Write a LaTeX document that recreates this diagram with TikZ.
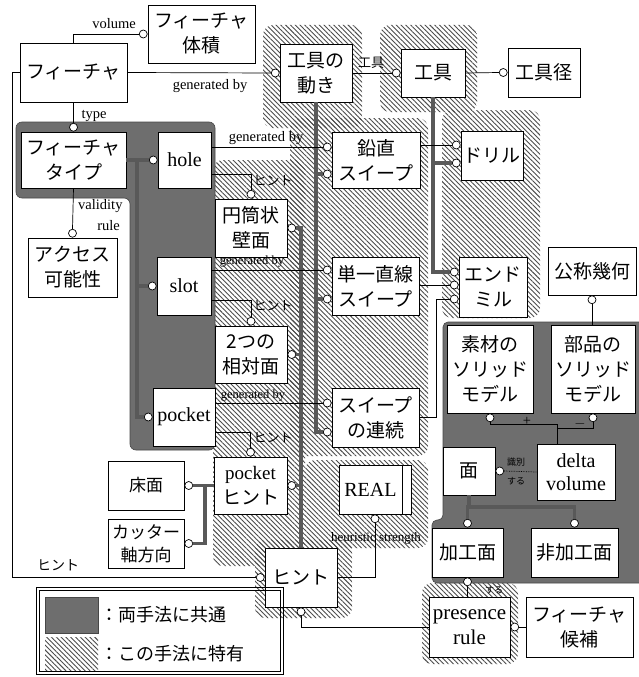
\documentclass[tikz,border=0pt]{standalone}
\usepackage{fontspec}
\setmainfont{Liberation Serif}
\newfontfamily\jp{Noto Sans CJK JP}
\usetikzlibrary{patterns.meta,calc}
\begin{document}
\begin{tikzpicture}[x=1pt,y=-1pt,
 box/.style={draw, fill=white, line width=0.8pt, inner sep=0pt, align=center, font=\jp\fontsize{19}{25}\selectfont},
 ebox/.style={box, font=\rmfamily\fontsize{20}{23}\selectfont},
 oc/.style={circle, draw, fill=white, line width=0.7pt, inner sep=0pt, minimum size=8pt},
 ln/.style={line width=0.7pt},
 thk/.style={line width=3.5pt, draw=black!65},
 lbl/.style={font=\rmfamily\fontsize{14.5}{15}\selectfont, inner sep=0pt},
 jlbl/.style={font=\jp\fontsize{13}{15}\selectfont, inner sep=0pt},
 slbl/.style={font=\jp\fontsize{9}{10}\selectfont, inner sep=0pt},
 hatch/.style={pattern={Lines[angle=-45,distance=3.4pt,line width=0.9pt]}, pattern color=black!70},
 dark/.style={fill=black!57, draw=black!72, line width=0.6pt},
]
\useasboundingbox (0,0) rectangle (639,677);
\fill[white] (0,0) rectangle (639,677);

% ---------- hatched regions ----------
\begin{scope}[rounded corners=10pt]
\path[hatch] (263,25) rectangle (362,128);
\path[hatch] (290,118) rectangle (428,456);
\path[hatch] (213,160) rectangle (305,566);
\path[hatch] (255,540) rectangle (352,618);
\path[hatch] (305,460) rectangle (428,548);
\path[hatch] (380,25) rectangle (477,112);
\path[hatch] (442,110) rectangle (540,318);
\path[hatch] (422,583) rectangle (518,664);
\end{scope}

% ---------- dark regions ----------
\path[dark, rounded corners=6pt] (16,122) -- (215,122) -- (215,450) -- (130,450) -- (130,198) -- (16,198) -- cycle;
\path[dark, rounded corners=5pt] (443,322) -- (645,322) -- (645,583) -- (432,583) -- (432,520) -- (443,520) -- cycle;

% ---------- boxes ----------
\node[box, minimum width=107pt, minimum height=58pt] (vol)   at (201.5,34)  {フィーチャ\\体積};
\node[box, minimum width=107pt, minimum height=59pt] (feat)  at (73.5,72.5) {フィーチャ};
\node[box, minimum width=72pt,  minimum height=58pt] (tmove) at (316,73)    {工具の\\動き};
\node[box, minimum width=64pt,  minimum height=48pt] (tool)  at (433,73)    {工具};
\node[box, minimum width=72pt,  minimum height=49pt] (tdia)  at (544,72.5)  {工具径};
\node[box, minimum width=88pt,  minimum height=56pt] (vsw)   at (376,160)   {鉛直\\スイープ};
\node[box, minimum width=62pt,  minimum height=49pt] (drill) at (492,155.5) {ドリル};
\node[box, minimum width=105pt, minimum height=56pt] (ftype) at (73.5,160)  {フィーチャ\\タイプ};
\node[ebox, minimum width=53pt, minimum height=56pt] (hole)  at (184.5,160) {hole};
\node[box, minimum width=72pt,  minimum height=58pt] (cyl)   at (251,228)   {円筒状\\壁面};
\node[box, minimum width=89pt,  minimum height=59pt] (acc)   at (72.5,267.5){アクセス\\可能性};
\node[ebox, minimum width=54pt, minimum height=58pt] (slot)  at (184,286)   {slot};
\node[box, minimum width=72pt,  minimum height=57pt] (two)   at (251,354.5) {2つの\\相対面};
\node[ebox, minimum width=62pt, minimum height=58pt] (pocket) at (184,417)  {pocket};
\node[box, minimum width=87pt,  minimum height=58pt] (lsw)   at (375.5,286) {単一直線\\スイープ};
\node[box, minimum width=68pt,  minimum height=60pt] (emill) at (493,287)   {エンド\\ミル};
\node[box, minimum width=88pt,  minimum height=48pt] (nom)   at (592,271)   {公称幾何};
\node[box, minimum width=86pt,  minimum height=88pt] (raw)   at (490,369)   {素材の\\ソリッド\\モデル};
\node[box, minimum width=84pt,  minimum height=88pt] (part)  at (593,369)   {部品の\\ソリッド\\モデル};
\node[box, minimum width=87pt,  minimum height=59pt] (csw)   at (375.5,417.5){スイープ\\の連続};
\node[box, minimum width=52pt,  minimum height=48pt] (face)  at (469,471)   {面};
\node[ebox, minimum width=78pt, minimum height=56pt] (delta) at (576,472)   {delta\\volume};
\node[box, minimum width=76pt,  minimum height=49pt, font=\jp\fontsize{17}{23}\selectfont] (floor) at (146,485.5) {床面};
\node[box, minimum width=76pt,  minimum height=49pt, font=\jp\fontsize{17}{23}\selectfont] (cutter) at (146,543.5) {カッター\\軸方向};
\node[box, minimum width=73pt,  minimum height=57pt] (phint) at (250.5,485.5) {\rmfamily pocket\\ヒント};
\node[ebox, minimum width=72pt, minimum height=49pt] (real)  at (375,489.5) {REAL\hspace{9pt}};
\node[box, minimum width=72pt,  minimum height=59pt] (hint)  at (301,577.5) {ヒント};
\node[box, minimum width=71pt,  minimum height=49pt] (mach)  at (467.5,552.5) {加工面};
\node[box, minimum width=87pt,  minimum height=49pt] (nmach) at (574.5,552.5) {非加工面};
\node[ebox, minimum width=81pt, minimum height=60pt, font=\rmfamily\fontsize{21}{25}\selectfont] (pres) at (469.5,627) {presence\\rule};
\node[box, minimum width=107pt, minimum height=60pt] (cand)  at (579.5,627) {フィーチャ\\候補};
\draw[line width=0.8pt] ([xshift=-9pt]real.north east) -- ([xshift=-9pt]real.south east);

% ---------- circles ----------
\node[oc, anchor=east]  (cvol) at (vol.west) {};
\node[oc, anchor=east]  (ctm)  at (tmove.west) {};
\node[oc, anchor=south] (cft)  at (ftype.north) {};
\node[oc, anchor=south] (cacc) at (acc.north) {};
\node[oc, anchor=east]  (ch)   at (hole.west) {};
\node[oc, anchor=east]  (cs)   at (slot.west) {};
\node[oc, anchor=east]  (cp)   at (pocket.west) {};
\node[oc, anchor=east]  (cv1)  at ([yshift=13pt]vsw.west) {};
\node[oc, anchor=east]  (cv2)  at ([yshift=-14pt]vsw.west) {};
\node[oc, anchor=east]  (cl1)  at ([yshift=16pt]lsw.west) {};
\node[oc, anchor=east]  (cl2)  at ([yshift=-13pt]lsw.west) {};
\node[oc, anchor=east]  (cc1)  at ([yshift=14.5pt]csw.west) {};
\node[oc, anchor=east]  (cc2)  at ([yshift=-14.5pt]csw.west) {};
\node[oc, anchor=south] (ccyl) at (cyl.north) {};
\node[oc, anchor=south] (ctwo) at (two.north) {};
\node[oc, anchor=south] (cph)  at (phint.north) {};
\node[oc, anchor=west]  (ccr)  at (cyl.east) {};
\node[oc, anchor=west]  (ctr)  at (two.east) {};
\node[oc, anchor=west]  (cpr)  at (phint.east) {};
\node[oc, anchor=west]  (cfl)  at (floor.east) {};
\node[oc, anchor=west]  (ccu)  at (cutter.east) {};
\node[oc, anchor=east]  (chl)  at (hint.west) {};
\node[oc, anchor=north] (creal) at (real.south) {};
\node[oc, anchor=north] (chb)  at (hint.south) {};
\node[oc, anchor=west]  (cpc)  at (pres.east) {};
\node[oc, anchor=north] (cmb)  at (mach.south) {};
\node[oc, anchor=east]  (ctl)  at (tool.west) {};
\node[oc, anchor=east]  (ctd)  at (tdia.west) {};
\node[oc, anchor=east]  (cd1)  at ([yshift=10.5pt]drill.west) {};
\node[oc, anchor=east]  (cd2)  at ([yshift=-7.5pt]drill.west) {};
\node[oc, anchor=east]  (ce1)  at ([yshift=15pt]emill.west) {};
\node[oc, anchor=east]  (ce2)  at ([yshift=2pt]emill.west) {};
\node[oc, anchor=east]  (ce3)  at ([yshift=-12pt]emill.west) {};
\node[oc, anchor=north] (cnom) at (nom.south) {};
\node[oc, anchor=north] (craw) at (raw.south) {};
\node[oc, anchor=north] (cpart) at (part.south) {};
\node[oc, anchor=west]  (cfd)  at (face.east) {};
\node[oc, anchor=south] (cma)  at (mach.north) {};
\node[oc, anchor=south] (cnm)  at (nmach.north) {};

\coordinate (tj) at (137,0);
\coordinate (fj) at (205,0);
\coordinate (sj) at (436,0);
\coordinate (fy) at (0,507);
\coordinate (dj) at ([xshift=-19pt]delta.north);

% ---------- thick connectors ----------
\draw[thk] (ftype.east) -- (ch.west);
\draw[thk] (tj |- ch) -- (tj |- cp) -- (cp.west);
\draw[thk] (tj |- cs) -- (cs.west);
\draw[thk] (tmove.south) -- (tmove.south |- cc2) -- (cc2.west);
\draw[thk] (tmove.south |- cv2) -- (cv2.west);
\draw[thk] (tmove.south |- cl2) -- (cl2.west);
\draw[thk] (ccr.east) -| (hint.north);
\draw[thk] (ctr.east) -- (ctr.east -| hint.north);
\draw[thk] (cpr.east) -- (cpr.east -| hint.north);
\draw[thk] (cfl.east) -- (phint.west);
\draw[thk] (ccu.east) -- (ccu.east -| fj) -- (cfl.east -| fj);
\draw[thk] (tool.south) |- (ce1.west);
\draw[thk] (tool.south |- cd2) -- (cd2.west);
\draw[thk] (face.south) -- (face.south |- fy) -- (cnm.north |- fy) -- (cnm.north);
\draw[thk] (face.south |- fy) -- (cma.north |- fy) -- (cma.north);

% ---------- thin connectors ----------
\draw[ln] (feat.north) |- (cvol.west);
\draw[ln] (feat.east) -- (ctm.west);
\draw[ln] (feat.south) -- (cft.north);
\draw[ln] (ftype.south) -- (cacc.north);
\draw[ln] (cv1 -| hole.east) -- (cv1.west);
\draw[ln] (hole.east) ++(0,14) -| (ccyl.north);
\draw[ln] (cl1 -| slot.east) -- (cl1.west);
\draw[ln] (slot.east) ++(0,14) -| (ctwo.north);
\draw[ln] (cc1 -| pocket.east) -- (cc1.west);
\draw[ln] (pocket.east) ++(0,15) -| (cph.north);
\draw[ln] (feat.west) -- ++(-7,0) |- (chl.west);
\draw[ln] (hint.east) -| (creal.south);
\draw[ln] (chb.south) |- (pres.west);
\draw[ln] (cpc.east) -- (cand.west);
\draw[ln] (cmb.south) -- (cmb.south |- pres.north);
\draw[ln] (tmove.east) -- (ctl.west);
\draw[ln] (tool.east) -- (ctd.west);
\draw[ln] (vsw.east |- cd1) -- (cd1.west);
\draw[ln] (lsw.east |- ce2) -- (ce2.west);
\draw[ln] (csw.east) -- (csw.east -| sj) -- (ce3.west -| sj) -- (ce3.west);
\draw[ln] (cnom.south) -- (cnom.south |- part.north);
\draw[ln] (craw.south) |- ([yshift=19pt]dj) -- (dj);
\draw[ln] (cpart.south) |- ([yshift=15pt]dj);
\draw[ln, densely dotted] (cfd.east) -- (delta.west);

% ---------- labels ----------
\node[lbl] (l1) at (114,24) {volume};
\node[lbl] (l2) at (210,86) {generated by};
\node[lbl] (l3) at (94,116) {type};
\node[lbl, anchor=west] (l4) at (78,206) {validity};
\node[lbl, anchor=east] (l5) at (120,226) {rule};
\node[lbl] (l6) at (266,138) {generated by};
\node[jlbl] (l7) at (273,181) {ヒント};
\node[lbl, font=\rmfamily\fontsize{12.5}{13}\selectfont] (l8) at (252,262) {generated by};
\node[jlbl] (l9) at (273,306) {ヒント};
\node[lbl, font=\rmfamily\fontsize{12.5}{13}\selectfont] (l10) at (253,396) {generated by};
\node[jlbl] (l11) at (273,438) {ヒント};
\node[jlbl, font=\jp\fontsize{14}{15}\selectfont] (l12) at (58,565) {ヒント};
\node[lbl, font=\rmfamily\fontsize{13}{14}\selectfont] (l13) at (376,538) {heuristic strength};
\node[jlbl] (l14) at (371,63) {工具};
\node[slbl] (l15) at (516,462) {識別};
\node[slbl] (l16) at (516,481) {する};
\node[slbl] (l17) at (494,590) {する};
\node[lbl] (l18) at (527,421) {+};
\node[lbl] (l19) at (580,424) {$-$};

% ---------- legend ----------
\draw[line width=0.8pt] (36,587) rectangle (283,674);
\draw[line width=0.8pt] (39,590) rectangle (280,671);
\path[dark] (45,597) rectangle (98,633);
\path[hatch] (45,637) rectangle (98,670);
\node[anchor=west, inner sep=0pt, font=\jp\fontsize{18}{20}\selectfont] (lg1) at (100,615) {：両手法に共通};
\node[anchor=west, inner sep=0pt, font=\jp\fontsize{18}{20}\selectfont] (lg2) at (100,654) {：この手法に特有};
\end{tikzpicture}
\end{document}
